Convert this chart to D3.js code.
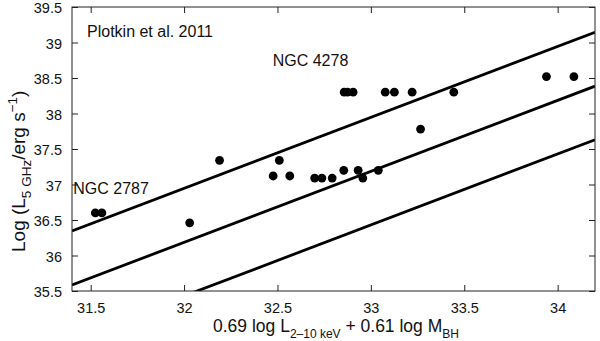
<!DOCTYPE html>
<html>
<head>
<meta charset="utf-8">
<script src="https://cdn.jsdelivr.net/npm/d3@7"></script>
<style>
  html, body { margin: 0; padding: 0; background: #fff; }
  svg { display: block; font-family: "Liberation Sans", Arial, Helvetica, sans-serif; }
</style>
</head>
<body>
<svg id="chart" width="600" height="341"></svg>
<script>
// ---- data ----
const pointX = [31.525, 31.56, 32.03, 32.19, 32.477, 32.51, 32.566, 32.699, 32.738, 32.793,
                32.855, 32.857, 32.875, 32.905, 32.932, 32.957, 33.04, 33.077, 33.126, 33.221,
                33.266, 33.444, 33.94, 34.087];
const pointY = [36.60, 36.60, 36.46, 37.34, 37.12, 37.34, 37.12, 37.09, 37.09, 37.09,
                37.20, 38.30, 38.30, 38.30, 37.20, 37.09, 37.20, 38.30, 38.30, 38.30,
                37.78, 38.30, 38.52, 38.52];
// three parallel relations: log L_R = slope * x + intercept
const lineSlope = 1.0;
const lineIntercepts = [4.945, 4.185, 3.43];
const xTicks = [31.5, 32, 32.5, 33, 33.5, 34];
const yTicks = [35.5, 36, 36.5, 37, 37.5, 38, 38.5, 39, 39.5];
const labels = [
  {text: "NGC 4278", x: 32.4745, y: 38.67},
  {text: "NGC 2787", x: 31.407, y: 36.87}
];
const annotation = "Plotkin et al. 2011";

// ---- layout ----
const svg = d3.select("#chart");
const L = 72, R = 595, T = 7, B = 291;
const x = d3.scaleLinear().domain([31.4, 34.2]).range([L, R]);
const y = d3.scaleLinear().domain([35.5, 39.5]).range([B, T]);
const tickLen = 6;
const fmt = d => String(d);

// clip
svg.append("defs").append("clipPath").attr("id", "clip")
  .append("rect").attr("x", L).attr("y", T).attr("width", R - L).attr("height", B - T);

// lines
const plot = svg.append("g").attr("clip-path", "url(#clip)");
const xd = x.domain();
plot.selectAll("line.fit").data(lineIntercepts).join("line")
  .attr("class", "fit")
  .attr("x1", x(xd[0])).attr("x2", x(xd[1]))
  .attr("y1", d => y(lineSlope * xd[0] + d))
  .attr("y2", d => y(lineSlope * xd[1] + d))
  .attr("stroke", "#000").attr("stroke-width", 2.8);

// points
plot.selectAll("circle").data(pointX.map((v, i) => [v, pointY[i]])).join("circle")
  .attr("cx", d => x(d[0])).attr("cy", d => y(d[1])).attr("r", 4.4).attr("fill", "#000");

// axes
const axStyle = g => {
  g.select(".domain").remove();
  g.selectAll(".tick line").attr("stroke", "#222").attr("stroke-width", 1);
  g.selectAll(".tick text").attr("font-size", 14.5).attr("fill", "#111")
    .attr("font-family", "'Liberation Sans', Arial, sans-serif");
};
svg.append("g").attr("transform", `translate(0,${B})`)
  .call(d3.axisBottom(x).tickValues(xTicks).tickFormat(fmt).tickSizeInner(-tickLen).tickSizeOuter(0).tickPadding(12))
  .call(axStyle);
svg.append("g").attr("transform", `translate(0,${T})`)
  .call(d3.axisTop(x).tickValues(xTicks).tickFormat("").tickSizeInner(-tickLen).tickSizeOuter(0))
  .call(axStyle);
svg.append("g").attr("transform", `translate(${L},0)`)
  .call(d3.axisLeft(y).tickValues(yTicks).tickFormat(fmt).tickSizeInner(-tickLen).tickSizeOuter(0).tickPadding(10))
  .call(axStyle)
  .call(g => g.selectAll(".tick text").attr("dy", "0.4em"));
svg.append("g").attr("transform", `translate(${R},0)`)
  .call(d3.axisRight(y).tickValues(yTicks).tickFormat("").tickSizeInner(-tickLen).tickSizeOuter(0))
  .call(axStyle);

// frame
svg.append("rect").attr("x", L).attr("y", T).attr("width", R - L).attr("height", B - T)
  .attr("fill", "none").attr("stroke", "#222").attr("stroke-width", 1);

// annotations
svg.append("text").attr("x", 87).attr("y", 37).attr("font-size", 16).attr("fill", "#111").text(annotation);
svg.selectAll("text.lab").data(labels).join("text").attr("class", "lab")
  .attr("x", d => x(d.x)).attr("y", d => y(d.y))
  .attr("font-size", 16).attr("fill", "#111").text(d => d.text);

// x label
const xl = svg.append("text").attr("x", 213).attr("y", 332).attr("font-size", 17.5).attr("fill", "#111");
xl.append("tspan").text("0.69 log L");
xl.append("tspan").attr("font-size", 12).attr("dy", 6).text("2\u201310 keV");
xl.append("tspan").attr("dy", -6).text(" + 0.61 log M");
xl.append("tspan").attr("font-size", 12).attr("dy", 6).text("BH");

// y label
const yl = svg.append("text").attr("transform", "translate(25,252) rotate(-90)")
  .attr("font-size", 19).attr("fill", "#111");
yl.append("tspan").text("Log (L");
yl.append("tspan").attr("font-size", 13.5).attr("dy", 6).text("5 GHz");
yl.append("tspan").attr("dy", -6).text("/erg s");
yl.append("tspan").attr("font-size", 13.5).attr("dy", -8).text("\u22121");
yl.append("tspan").attr("dy", 8).text(")");
</script>
</body>
</html>
